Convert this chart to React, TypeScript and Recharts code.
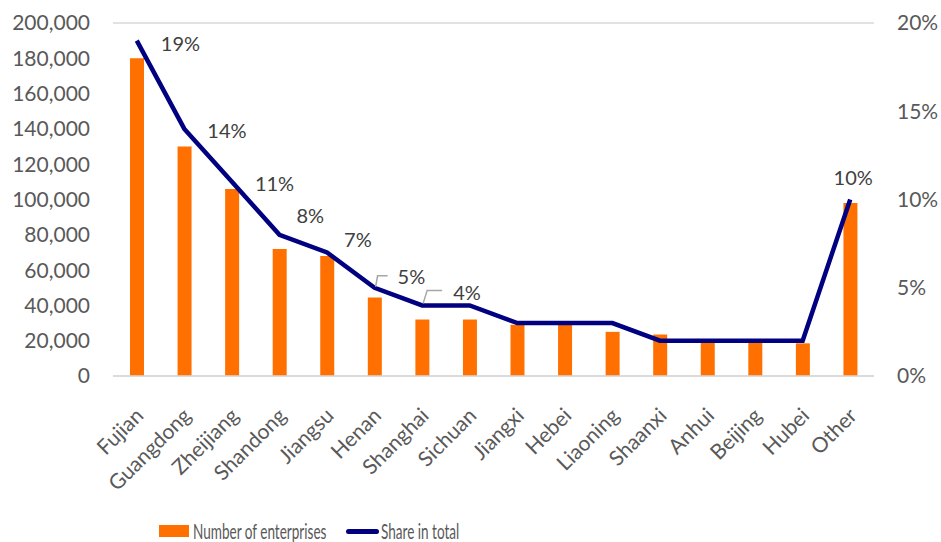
import React from "react";
import { ComposedChart, Bar, Line, XAxis, YAxis, CartesianGrid, Legend, LabelList } from "recharts";

const provinces = ["Fujian", "Guangdong", "Zheijiang", "Shandong", "Jiangsu", "Henan", "Shanghai", "Sichuan", "Jiangxi", "Hebei", "Liaoning", "Shaanxi", "Anhui", "Beijing", "Hubei", "Other"];
const enterprises = [180000, 130000, 106000, 72000, 68000, 44500, 32000, 32000, 29000, 29000, 25000, 23500, 20000, 20000, 18500, 98000];
const shares = [0.19, 0.14, 0.11, 0.08, 0.07, 0.05, 0.04, 0.04, 0.03, 0.03, 0.03, 0.02, 0.02, 0.02, 0.02, 0.10];
const leftTicks = [0, 20000, 40000, 60000, 80000, 100000, 120000, 140000, 160000, 180000, 200000];
const rightTicks = [0, 0.05, 0.1, 0.15, 0.2];
const labeledIdx = [0, 1, 2, 3, 4, 5, 6, 15];

const data = provinces.map((p, i) => ({ name: p, count: enterprises[i], share: shares[i] }));

// label placement relative to point: [dx to text start, dy of text center, leader type]
const labelPlacement: Record<number, { dx: number; dy: number; anchor: string; leader?: number[][] }> = {
  0: { dx: 24, dy: 3, anchor: "start" },
  1: { dx: 23, dy: 2, anchor: "start" },
  2: { dx: 23, dy: 2, anchor: "start" },
  3: { dx: 17, dy: -19, anchor: "start" },
  4: { dx: 17, dy: -13, anchor: "start" },
  5: { dx: 23, dy: -11, anchor: "start", leader: [[1, -1], [3, -12], [13, -12]] },
  6: { dx: 31, dy: -13, anchor: "start", leader: [[1, -2], [5, -15], [20, -15]] },
  15: { dx: 3, dy: -22, anchor: "middle" },
};

const FONT = "Lato, 'Open Sans', sans-serif";
const TXT = "#595959";

const ShareLabel = (props: any) => {
  const { x, y, index, value } = props;
  if (!labeledIdx.includes(index)) return null;
  const pl = labelPlacement[index];
  return (
    <g>
      {pl.leader && (
        <polyline
          points={pl.leader.map((p) => `${x + p[0]},${y + p[1]}`).join(" ")}
          fill="none"
          stroke="#A6A6A6"
          strokeWidth={1.5}
        />
      )}
      <text
        x={x + pl.dx}
        y={y + pl.dy}
        dy="0.36em"
        textAnchor={pl.anchor}
        fontSize={20}
        fontFamily={FONT}
        fill="#404040"
      >
        {`${Math.round(value * 100)}%`}
      </text>
    </g>
  );
};

const XTick = (props: any) => {
  const { x, y, payload } = props;
  const tx = x + 8;
  const ty = y + 33;
  return (
    <text
      x={tx}
      y={ty}
      transform={`rotate(-45, ${tx}, ${ty})`}
      textAnchor="end"
      fontSize={21}
      fontFamily={FONT}
      fill={TXT}
    >
      {payload.value}
    </text>
  );
};

const legendText: React.CSSProperties = {
  position: "absolute",
  top: 0,
  lineHeight: "22px",
  whiteSpace: "nowrap",
  transform: "scaleX(0.645)",
  transformOrigin: "left center",
};

const LegendContent = () => (
  <div style={{ height: 22, position: "relative", fontFamily: FONT, fontSize: 21, color: TXT }}>
    <div style={{ position: "absolute", left: 159, top: 5, width: 30, height: 12, background: "#FF7000" }} />
    <div style={{ ...legendText, left: 193 }}>Number of enterprises</div>
    <div style={{ position: "absolute", left: 346, top: 9, width: 33, height: 5, background: "#000080", borderRadius: 3 }} />
    <div style={{ ...legendText, left: 381 }}>Share in total</div>
  </div>
);

export default function App() {
  return (
    <div style={{ position: "absolute", left: 0, top: 0, width: 941, height: 542, background: "#fff" }}>
      <ComposedChart
        width={941}
        height={542}
        data={data}
        margin={{ top: 23, right: 0, bottom: 0, left: 0 }}
      >
        <CartesianGrid vertical={false} stroke="#D9D9D9" strokeWidth={1.5} />
        <XAxis
          dataKey="name"
          height={144}
          interval={0}
          axisLine={{ stroke: "#D9D9D9", strokeWidth: 1.5 }}
          tickLine={false}
          tick={<XTick />}
        />
        <YAxis
          yAxisId="left"
          width={113}
          domain={[0, 200000]}
          ticks={leftTicks}
          axisLine={false}
          tickLine={false}
          tickSize={0}
          tickMargin={23}
          tick={{ fontSize: 21, fontFamily: FONT, fill: TXT }}
          tickFormatter={(v: number) => v.toLocaleString("en-US")}
        />
        <YAxis
          yAxisId="right"
          orientation="right"
          width={67}
          domain={[0, 0.2]}
          ticks={rightTicks}
          axisLine={false}
          tickLine={false}
          tickSize={0}
          tickMargin={23}
          tick={{ fontSize: 21, fontFamily: FONT, fill: TXT }}
          tickFormatter={(v: number) => `${Math.round(v * 100)}%`}
        />
        <Legend verticalAlign="bottom" content={<LegendContent />} wrapperStyle={{ left: 0, width: 941, bottom: 0 }} />
        <Bar yAxisId="left" dataKey="count" name="Number of enterprises" fill="#FF7000" barSize={14} isAnimationActive={false} />
        <Line
          yAxisId="right"
          dataKey="share"
          name="Share in total"
          type="linear"
          stroke="#000080"
          strokeWidth={4.5}
          dot={false}
          activeDot={false}
          isAnimationActive={false}
        >
          <LabelList dataKey="share" content={<ShareLabel />} />
        </Line>
      </ComposedChart>
    </div>
  );
}
